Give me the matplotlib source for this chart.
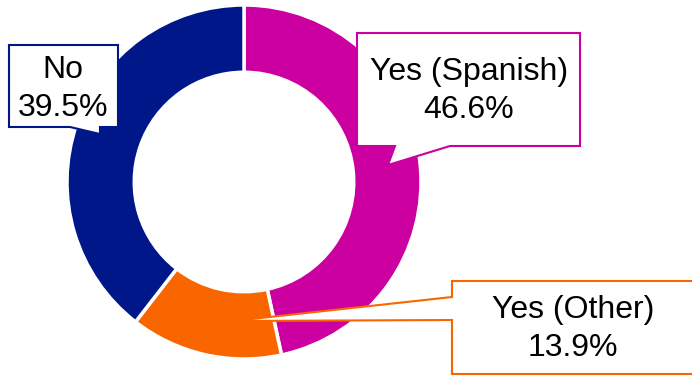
import matplotlib
matplotlib.use("Agg")
import matplotlib.pyplot as plt
from matplotlib.patches import Polygon

# Data
categories = ["Yes (Spanish)", "Yes (Other)", "No"]
values = [46.6, 13.9, 39.5]
colors = ["#CC00A0", "#F96600", "#00178A"]

W, H = 692, 376
fig = plt.figure(figsize=(W / 100, H / 100), dpi=100)
ax = fig.add_axes([0, 0, 1, 1])
ax.set_xlim(0, W)
ax.set_ylim(0, H)
ax.set_aspect("equal")
ax.axis("off")

def py(y):
    return H - y

cx, cy, R = 244, 182, 177
ax.pie(values, colors=colors, startangle=90, counterclock=False,
       center=(cx, py(cy)), radius=R, frame=True,
       wedgeprops=dict(width=R * 0.38, edgecolor="white", linewidth=2.5))
ax.set_xlim(0, W)
ax.set_ylim(0, H)
ax.axis("off")

# Callout boxes (pixel coords, y down)
callouts = {
    "No": [(9, 45), (118, 45), (118, 127), (100, 127), (100, 134), (70, 127), (9, 127)],
    "Yes (Spanish)": [(357, 33), (580, 33), (580, 146), (450, 146), (388, 165), (395, 146), (357, 146)],
    "Yes (Other)": [(452, 281), (700, 281), (700, 374), (452, 374), (452, 320), (233, 321), (452, 297)],
}
text_pos = {"No": (63, 89), "Yes (Spanish)": (469, 91), "Yes (Other)": (573, 329)}

for cat, val, col in zip(categories, values, colors):
    pts = [(x, py(y)) for x, y in callouts[cat]]
    ax.add_patch(Polygon(pts, closed=True, facecolor="white", edgecolor=col,
                         linewidth=1.5, zorder=5, joinstyle="miter"))
    tx, ty = text_pos[cat]
    ax.text(tx, py(ty), f"{cat}\n{val:.1f}%", ha="center", va="center",
            fontsize=23, family="Liberation Sans", color="black",
            linespacing=1.36, zorder=6)

fig.savefig("out.png", dpi=100)
